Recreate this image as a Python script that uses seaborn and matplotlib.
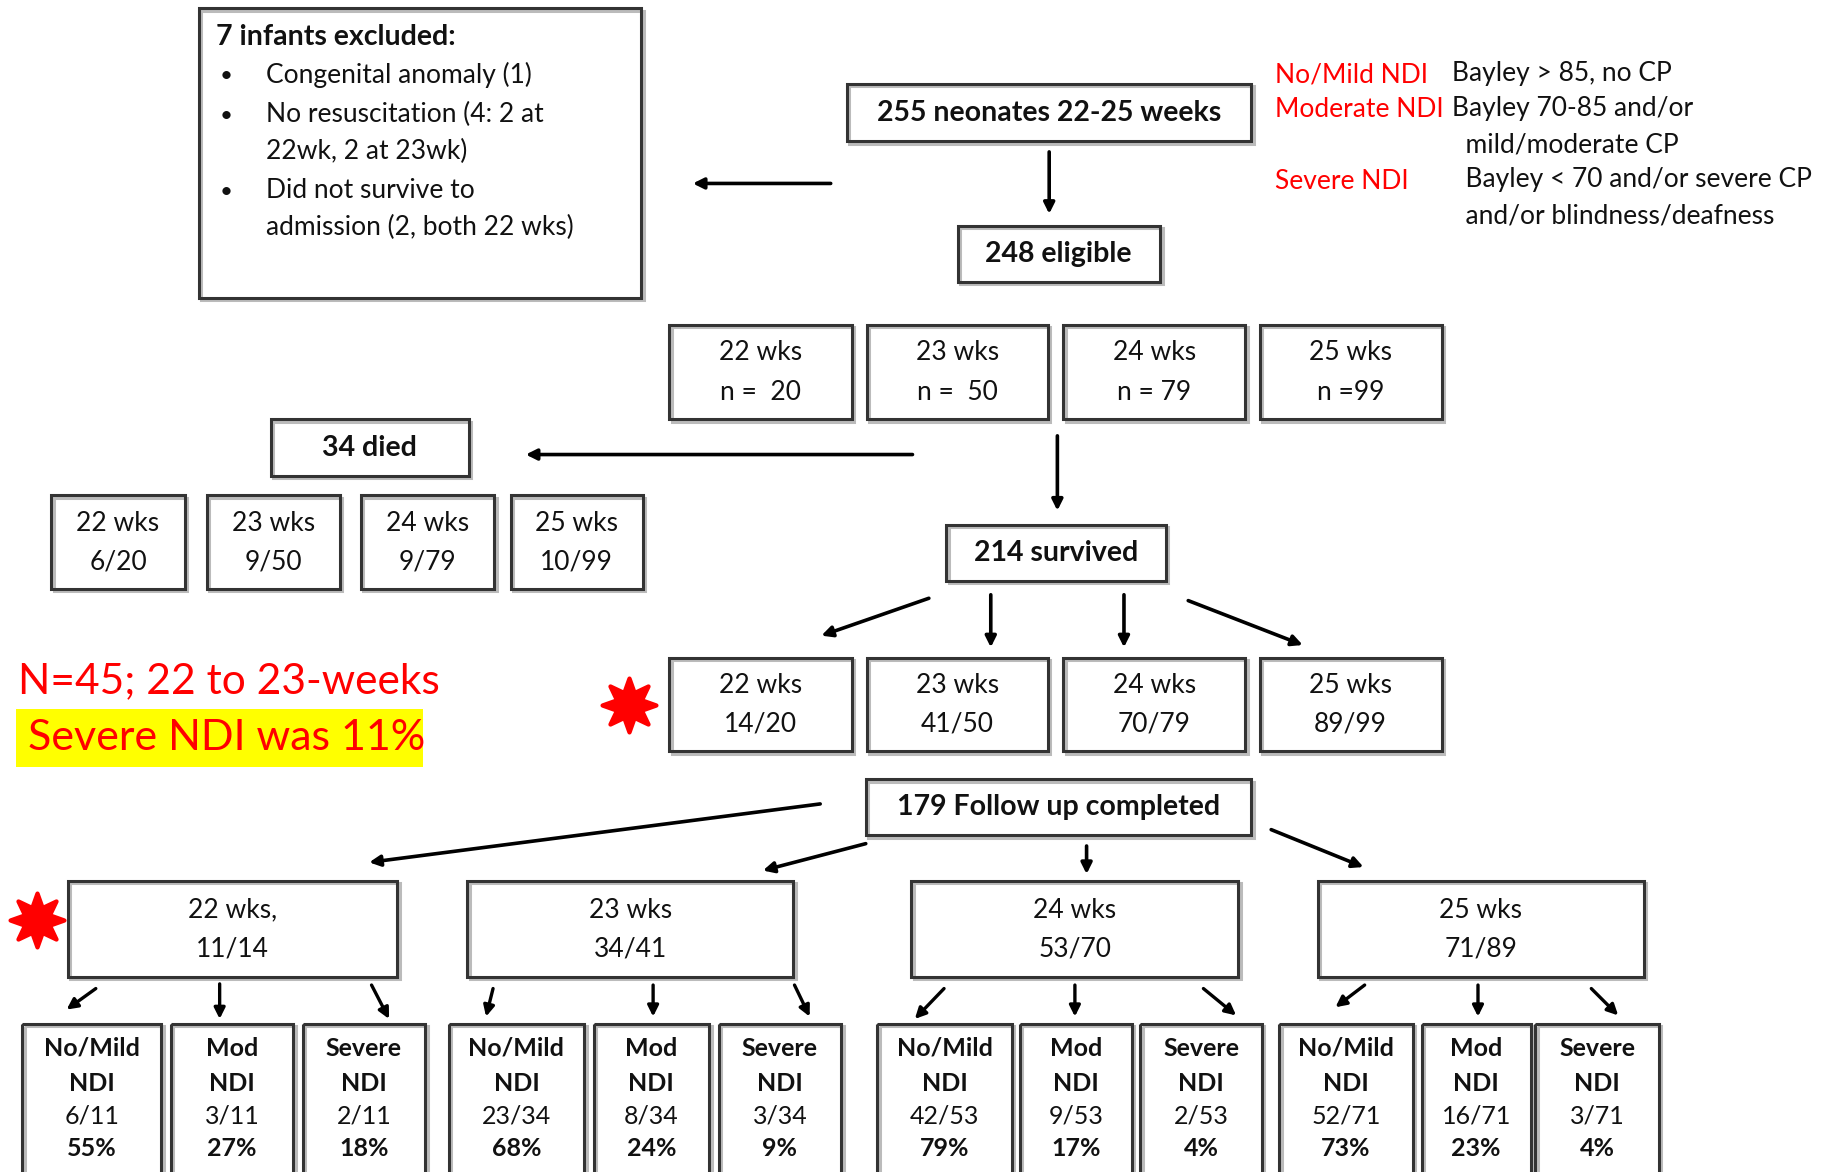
import matplotlib
matplotlib.use("Agg")
import matplotlib.pyplot as plt
import seaborn as sns
import pandas as pd
from matplotlib.patches import Rectangle

# --- dados do fluxograma ---
semanas = ["22 wks", "23 wks", "24 wks", "25 wks"]
n_elegiveis = [20, 50, 79, 99]
rotulos_n = ["n =  20", "n =  50", "n = 79", "n =99"]
n_mortos = [6, 9, 9, 10]
n_sobreviventes = [14, 41, 70, 89]
n_seguimento = [11, 34, 53, 71]
totais = {"neonatos": 255, "elegiveis": 248, "mortos": 34, "sobreviventes": 214, "seguimento": 179}
ndi_categorias = ["No/Mild", "Mod", "Severe"]
ndi_contagens = [[6, 3, 2], [23, 8, 3], [42, 9, 2], [52, 16, 3]]
ndi_percentuais = [[55, 27, 18], [68, 24, 9], [79, 17, 4], [73, 23, 4]]
excluidos = ["Congenital anomaly (1)", "No resuscitation (4: 2 at\n22wk, 2 at 23wk)",
             "Did not survive to\nadmission (2, both 22 wks)"]
legenda_ndi = [("No/Mild NDI", "Bayley > 85, no CP"),
               ("Moderate NDI", "Bayley 70-85 and/or\n  mild/moderate CP"),
               ("Severe NDI", "  Bayley < 70 and/or severe CP\n  and/or blindness/deafness")]

sns.set_theme(style="white")
plt.rcParams["font.family"] = ["Lato", "DejaVu Sans"]

fig = plt.figure(figsize=(18.32, 11.72), dpi=100)
ax = fig.add_axes([0, 0, 1, 1])

EC = "#333333"
FS = 19
FB = 20.5
FN = 18


def caixa(x0, x1, y0, y1, lw=2.2):
    ax.add_patch(Rectangle((x0 + 2, y0 + 2), x1 - x0, y1 - y0, fill=False, ec="#bbbbbb", lw=lw))
    ax.add_patch(Rectangle((x0, y0), x1 - x0, y1 - y0, fill=False, ec=EC, lw=lw))


def seta(x0, y0, x1, y1, lw=2.6):
    ax.annotate("", xy=(x1, y1), xytext=(x0, y0),
                arrowprops=dict(arrowstyle="-|>", lw=lw, color="black", mutation_scale=16,
                                shrinkA=0, shrinkB=0))


def texto(x, y, s, **kw):
    kw.setdefault("ha", "center")
    kw.setdefault("va", "center")
    kw.setdefault("fontsize", FS)
    ax.text(x, y, s, color=kw.pop("color", "#111111"), **kw)


# estrelas vermelhas
estrelas = pd.DataFrame({"x": [538, 32], "y": [603, 787]})
sns.scatterplot(data=estrelas, x="x", y="y", marker=(8, 1, 0), s=1500, color="red",
                edgecolor="red", ax=ax, zorder=5, legend=False)
ax.set_xlim(0, 1568)
ax.set_ylim(1003, 0)
ax.axis("off")

# caixa de excluidos
caixa(170, 549, 7, 255)
texto(185, 32, f"{totais['neonatos'] - totais['elegiveis']} infants excluded:", ha="left",
      fontweight="bold", fontsize=FB)
ys = [65, 99, 164]
for y, s in zip(ys, excluidos):
    texto(188, y, "\u2022", ha="left", fontsize=16)
    ax.text(228, y - 12, s, ha="left", va="top", fontsize=FS, color="#111111", linespacing=1.62)

# topo
caixa(725, 1071, 72, 121)
texto(898, 97, f"{totais['neonatos']} neonates 22-25 weeks", fontweight="bold", fontsize=FB)
seta(711, 157, 593, 157)
seta(898, 130, 898, 183)
caixa(820, 993, 193, 241)
texto(906, 217, f"{totais['elegiveis']} eligible", fontweight="bold", fontsize=FB)

# legenda NDI
for (rot, desc), y in zip(legenda_ndi, [64, 94, 155]):
    ax.text(1091, y, rot, color="red", ha="left", va="center", fontsize=FS)
    ax.text(1243, y - 12, desc, color="#111111", ha="left", va="top", fontsize=FS, linespacing=1.58)

# linha de elegiveis por semana
xs4 = [(573, 729), (742, 897), (910, 1066), (1078, 1234)]
for (x0, x1), s, rn in zip(xs4, semanas, rotulos_n):
    caixa(x0, x1, 278, 359)
    texto((x0 + x1) / 2, 302, s)
    texto((x0 + x1) / 2, 336, rn)

# mortos
caixa(232, 401, 359, 407)
texto(316, 383, f"{totais['mortos']} died", fontweight="bold", fontsize=FB)
seta(781, 389, 450, 389)
xs_m = [(44, 158), (177, 291), (309, 423), (437, 550)]
for (x0, x1), s, m, n in zip(xs_m, semanas, n_mortos, n_elegiveis):
    caixa(x0, x1, 424, 504)
    texto((x0 + x1) / 2, 448, s)
    texto((x0 + x1) / 2, 481, f"{m}/{n}")

# sobreviventes
seta(905, 373, 905, 437)
caixa(810, 998, 449, 497)
texto(904, 473, f"{totais['sobreviventes']} survived", fontweight="bold", fontsize=FB)
seta(795, 512, 703, 544)
seta(848, 509, 848, 554)
seta(962, 509, 962, 554)
seta(1017, 514, 1115, 552)
for (x0, x1), s, v, n in zip(xs4, semanas, n_sobreviventes, n_elegiveis):
    caixa(x0, x1, 563, 643)
    texto((x0 + x1) / 2, 587, s)
    texto((x0 + x1) / 2, 620, f"{v}/{n}")

# destaque em vermelho
texto(15, 583, "N=45; 22 to 23-weeks", ha="left", color="red", fontsize=30.6)
ax.add_patch(Rectangle((14, 607), 348, 49, color="#ffff00", lw=0))
texto(24, 632, "Severe NDI was 11%", ha="left", color="red", fontsize=31)

# seguimento
caixa(741, 1071, 667, 715)
texto(906, 691, f"{totais['seguimento']} Follow up completed", fontweight="bold", fontsize=FB)
seta(702, 688, 316, 738)
seta(741, 722, 653, 745)
seta(930, 724, 930, 748)
seta(1088, 710, 1167, 742)

xs_g = [(58, 340), (400, 679), (780, 1060), (1128, 1407)]
for i, ((x0, x1), s, f, v) in enumerate(zip(xs_g, semanas, n_seguimento, n_sobreviventes)):
    caixa(x0, x1, 754, 836)
    rot = s + "," if i == 0 else s
    texto((x0 + x1) / 2, 779, rot)
    texto((x0 + x1) / 2, 812, f"{f}/{v}")

# caixas de NDI
xs_ndi = [[(19, 138), (146, 251), (259, 364)],
          [(384, 500), (508, 607), (615, 720)],
          [(751, 866), (873, 969), (976, 1080)],
          [(1095, 1209), (1217, 1310), (1314, 1420)]]
setas_ndi = [[(82, 846, 57, 864), (188, 842, 188, 872), (318, 843, 333, 872)],
             [(422, 846, 416, 870), (559, 843, 559, 870), (680, 843, 693, 870)],
             [(808, 846, 783, 872), (920, 843, 920, 870), (1030, 846, 1058, 869)],
             [(1168, 843, 1143, 862), (1265, 843, 1265, 870), (1362, 846, 1385, 869)]]
for g in range(4):
    for k in range(3):
        x0, x1 = xs_ndi[g][k]
        caixa(x0, x1, 876, 1040)
        cx = (x0 + x1) / 2
        texto(cx, 897, ndi_categorias[k], fontweight="bold", fontsize=FN)
        texto(cx, 927, "NDI", fontweight="bold", fontsize=FN)
        texto(cx, 955, f"{ndi_contagens[g][k]}/{n_seguimento[g]}", fontsize=FN)
        texto(cx, 983, f"{ndi_percentuais[g][k]}%", fontweight="bold", fontsize=FN)
        seta(*setas_ndi[g][k], lw=2.4)

fig.savefig("out.png", dpi=100)
